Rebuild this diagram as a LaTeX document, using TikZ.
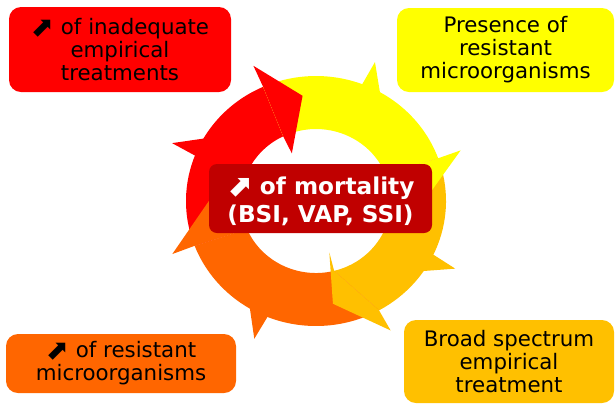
\documentclass[tikz,border=0pt]{standalone}
\usepackage{fontspec}
\setmainfont{DejaVu Sans}
\usepackage{xcolor}
\usetikzlibrary{positioning}
\definecolor{cyclered}{HTML}{FF0000}
\definecolor{cycleyellow}{HTML}{FFFF00}
\definecolor{cyclegold}{HTML}{FFC000}
\definecolor{cycleorange}{HTML}{FF6600}
\definecolor{centerred}{HTML}{C00000}
\newcommand{\nearr}{\raisebox{-1.2pt}{\scalebox{1.3}{⬈}}}
\tikzset{
  cornerbox/.style={rounded corners=9pt, align=center, inner sep=0pt, text=black, font=\fontsize{16}{17.2}\selectfont},
  redbox/.style={cornerbox, fill=cyclered},
  yellowbox/.style={cornerbox, fill=cycleyellow},
  goldbox/.style={cornerbox, fill=cyclegold},
  orangebox/.style={cornerbox, fill=cycleorange},
  centerbox/.style={rounded corners=6pt, align=center, inner sep=0pt, fill=centerred, text=white, font=\fontsize{17.4}{20.8}\selectfont\bfseries}
}
\begin{document}
\begin{tikzpicture}[x=0.75pt, y=-0.75pt]
  \useasboundingbox (0,0) rectangle (616,405);
  \begin{scope}[shift={(316,201)}, xscale=1.04, yscale=-1]
    \def\Rout{125}
    \def\Rin{72}
    % bands
    \foreach \a/\b/\c/\d/\col in {201/114/116/203/cyclered, 114/20/22/116/cycleyellow, 20/-61/-76/22/cyclegold, -61/-159/-157/-76/cycleorange}{
      \fill[\col] (\a:\Rout) arc[start angle=\a, end angle=\b, radius=\Rout] -- (\c:\Rin) arc[start angle=\c, end angle=\d, radius=\Rin] -- cycle;
    }
    % heads
    \foreach \ao/\ai/\ta/\tr/\col in {114/116/97/106/cyclered, 20/22/0/104/cycleyellow, -61/-76/-81/104/cyclegold, 201/203/180/103/cycleorange}{
      \fill[\col] (\ao:148) -- (\ta:\tr) -- (\ai:53) -- (\ai:\Rin) -- (\ao:\Rout) -- cycle;
    }
    % barbs
    \foreach \s/\col in {67.8/cycleyellow, 157.3/cyclered, 246.7/cycleorange, 333.2/cyclegold}{
      \fill[\col] ({\s+1.5}:{\Rout-2}) -- (\s:150) -- ({\s-8}:{\Rout-2}) -- cycle;
    }
  \end{scope}
  \node[redbox, minimum width=166.5pt, minimum height=63.75pt] (inadequate) at (120,49.5) {\nearr{} of inadequate\\empirical\\treatments};
  \node[yellowbox, minimum width=162.75pt, minimum height=63pt] (presence) at (505.5,50) {Presence of\\resistant\\microorganisms};
  \node[goldbox, minimum width=157.5pt, minimum height=62.25pt] (broad) at (509,361.5) {Broad spectrum\\empirical\\treatment};
  \node[orangebox, minimum width=172.5pt, minimum height=44.25pt] (resistant) at (121,363.5) {\nearr{} of resistant\\microorganisms};
  \node[centerbox, minimum width=167.25pt, minimum height=51.75pt] (mortality) at (320.5,198.5) {\rule{0pt}{17.7pt}\nearr{} of mortality\\(BSI, VAP, SSI)};
\end{tikzpicture}
\end{document}
